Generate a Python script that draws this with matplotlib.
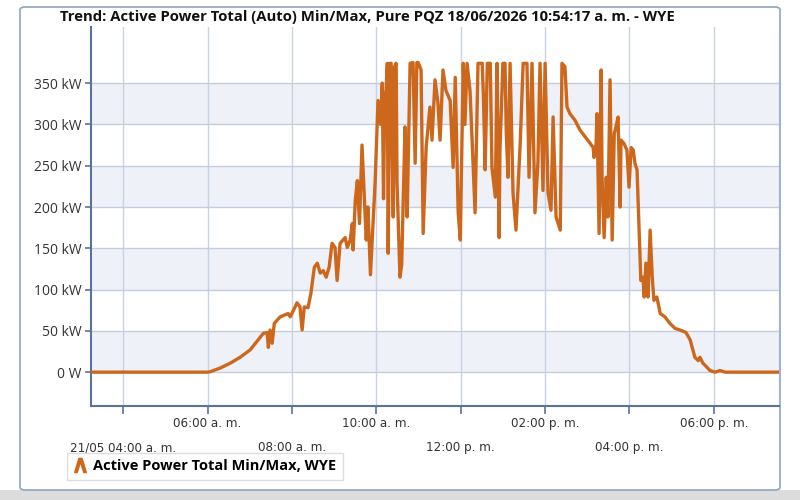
import matplotlib
matplotlib.use("Agg")
import matplotlib.pyplot as plt
from matplotlib.lines import Line2D
from matplotlib.patches import FancyBboxPatch, Rectangle

# time of day in hours, active power in kW
hours = [3.24, 6.0, 6.06, 6.30, 6.54, 6.77, 7.01, 7.32, 7.41, 7.44, 7.48, 7.53, 7.58, 7.72,
         7.91, 7.96, 8.12, 8.19, 8.24, 8.29, 8.38, 8.45, 8.53, 8.60, 8.67, 8.74, 8.81, 8.88,
         8.95, 9.02, 9.07, 9.14, 9.26, 9.31, 9.38, 9.43, 9.45, 9.50, 9.55, 9.60, 9.66, 9.70,
         9.76, 9.80, 9.86, 9.97, 10.04, 10.10, 10.14, 10.17, 10.20, 10.23, 10.26, 10.28, 10.32,
         10.35, 10.40, 10.43, 10.47, 10.49, 10.56, 10.60, 10.68, 10.71, 10.73, 10.80, 10.87, 10.92,
         10.96, 10.99, 11.06, 11.11, 11.18, 11.27, 11.32, 11.39, 11.46, 11.51, 11.58, 11.65,
         11.75, 11.82, 11.87, 11.94, 11.99, 12.06, 12.10, 12.15, 12.22, 12.27, 12.34, 12.41, 12.51,
         12.54, 12.58, 12.63, 12.70, 12.74, 12.82, 12.86, 12.91, 12.93, 13.00, 13.05, 13.08, 13.12,
         13.17, 13.24, 13.31, 13.41, 13.48, 13.57, 13.62, 13.69, 13.76, 13.83, 13.88, 13.95, 14.00,
         14.07, 14.14, 14.19, 14.26, 14.31, 14.36, 14.40, 14.47, 14.52, 14.59, 14.71, 14.83,
         14.95, 15.07, 15.14, 15.16, 15.21, 15.23, 15.28, 15.33, 15.35, 15.40, 15.45, 15.49,
         15.54, 15.59, 15.64, 15.68, 15.73, 15.78, 15.80, 15.87, 15.94, 15.99, 16.04, 16.09,
         16.13, 16.18, 16.23, 16.27, 16.32, 16.35, 16.39, 16.44, 16.49, 16.54, 16.58, 16.65,
         16.73, 16.84, 16.96, 17.08, 17.20, 17.34, 17.44, 17.55, 17.63, 17.67, 17.74, 17.91,
         18.03, 18.15, 18.27, 19.55]
power_kw = [0, 0, 0.5, 5, 11, 18, 27, 47, 48, 30, 51, 35, 59, 67,
            71, 67, 84, 79, 51, 79, 78, 96, 127, 132, 120, 123, 115, 127,
            156, 151, 111, 156, 163, 151, 160, 180, 148, 208, 232, 180, 275, 230,
            160, 200, 118, 229, 329, 300, 350, 210, 335, 341, 374, 144, 374,
            374, 188, 370, 374, 229, 115, 130, 297, 240, 188, 374, 375, 253,
            375, 375, 366, 168, 272, 321, 281, 354, 326, 281, 366, 341,
            329, 248, 357, 193, 160, 374, 300, 374, 341, 281, 193, 374, 374,
            330, 245, 374, 374, 248, 212, 374, 163, 269, 374, 374, 290, 236,
            374, 217, 172, 277, 374, 374, 236, 374, 193, 253, 374, 220, 374,
            217, 196, 309, 188, 180, 172, 374, 370, 321, 313, 305, 293,
            285, 277, 272, 260, 277, 313, 168, 366, 236, 163, 236, 188,
            354, 160, 289, 297, 309, 200, 281, 277, 269, 224, 272, 269,
            253, 245, 172, 111, 115, 91, 132, 91, 172, 115, 87, 91,
            71, 67, 59, 53, 51, 48, 39, 18, 14, 18, 11, 2,
            0, 2, 0, 0]

y_ticks = [0, 50, 100, 150, 200, 250, 300, 350]
y_labels = ["0 W", "50 kW", "100 kW", "150 kW", "200 kW", "250 kW", "300 kW", "350 kW"]
x_top = [6, 10, 14, 18]
x_top_labels = ["06:00 a. m.", "10:00 a. m.", "02:00 p. m.", "06:00 p. m."]
x_bot = [4, 8, 12, 16]
x_bot_labels = ["21/05 04:00 a. m.", "08:00 a. m.", "12:00 p. m.", "04:00 p. m."]

title = "Trend: Active Power Total (Auto) Min/Max, Pure PQZ 18/06/2026 10:54:17 a. m. - WYE"
series_name = "Active Power Total Min/Max, WYE"
line_color = "#cc671c"

fig = plt.figure(figsize=(8, 5), dpi=100)

# outer panel frame
fig.patches.append(Rectangle((0, 0), 1, 0.02, transform=fig.transFigure,
                             facecolor="#dcdcdc", edgecolor="none", zorder=-2))
fig.patches.append(FancyBboxPatch((0.025, 0.02), 0.95, 0.966, boxstyle="round,pad=0,rounding_size=0.006",
                                  transform=fig.transFigure, facecolor="white",
                                  edgecolor="#8fa3c2", linewidth=1.2, zorder=-1))

ax = fig.add_axes([0.114, 0.188, 0.860, 0.758])
ax.set_zorder(2)

# alternating shaded bands
for lo in [0, 100, 200, 300]:
    ax.axhspan(lo, lo + 50, color="#eef1f7", zorder=0, lw=0)

ax.plot(hours, power_kw, color=line_color, lw=2.4, zorder=3, solid_joinstyle="round")

ax.set_xlim(3.24, 19.55)
ax.set_ylim(-41, 418)

ax.set_yticks(y_ticks)
ax.set_yticklabels(y_labels, family=["Open Sans", "DejaVu Sans"], fontsize=10, color="#333333")
ax.tick_params(axis="y", length=4, width=1.2, color="#5b7399", pad=3)

ax.set_xticks(x_top)
ax.set_xticklabels(x_top_labels, fontsize=9.5, fontstretch="condensed", color="#333333")
ax.set_xticks(x_bot, minor=True)
ax.set_xticklabels(x_bot_labels, minor=True, fontsize=9.5, fontstretch="condensed", color="#333333")
ax.tick_params(axis="x", which="major", length=6, width=1.2, color="#5b7399", pad=2)
ax.tick_params(axis="x", which="minor", length=6, width=1.2, color="#5b7399", pad=19.5)

for h in x_top + x_bot:
    ax.axvline(h, color="#c9d2e3", lw=1, zorder=1)
for v in y_ticks:
    ax.axhline(v, color="#c5cee0", lw=1, zorder=1)

for s in ["left", "bottom"]:
    ax.spines[s].set_color("#5b7399")
    ax.spines[s].set_linewidth(1.5)
ax.spines["top"].set_visible(False)
ax.spines["right"].set_color("#9fb2d2")

fig.text(0.075, 0.966, title, fontsize=10.7, fontweight="bold", family=["Open Sans", "DejaVu Sans"],
         color="#111111", va="center", ha="left")

handle = Line2D([], [], color=line_color, marker=r"$\wedge$", markersize=10, linestyle="none",
                markeredgewidth=1.2)
leg = fig.legend([handle], [series_name], loc="lower left", bbox_to_anchor=(0.075, 0.026),
                 frameon=True, fancybox=False, handlelength=0.8, handletextpad=0.5,
                 borderpad=0.45, prop={"family": ["Open Sans", "DejaVu Sans"], "weight": "bold", "size": 10.5})
leg.get_frame().set_edgecolor("#d5d5d5")
leg.get_frame().set_linewidth(1)

fig.savefig("out.png", dpi=100)
